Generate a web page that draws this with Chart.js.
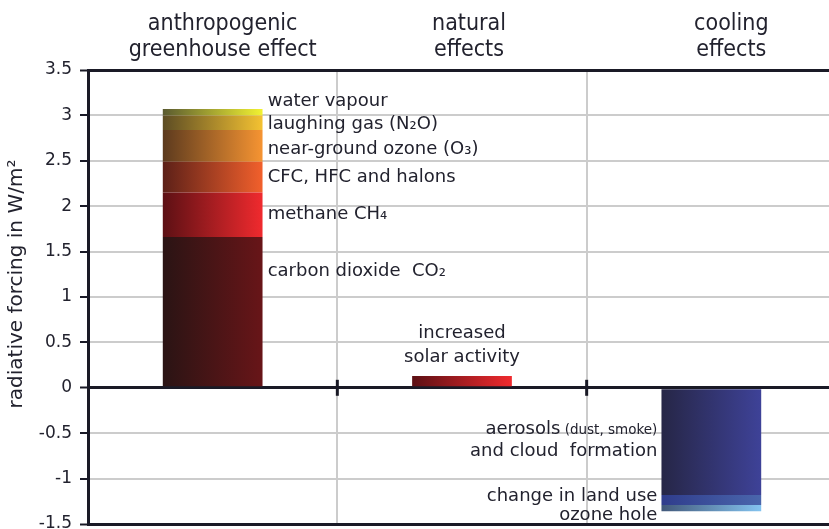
<!DOCTYPE html>
<html lang="en">
<head>
    <meta charset="UTF-8">
    <title>Radiative forcing</title>
    <script src="https://cdn.jsdelivr.net/npm/chart.js"></script>
    <style>
        html, body { margin: 0; padding: 0; overflow: hidden; background: #fff; }
    </style>
</head>
<body>
    <canvas id="forcingChart" width="840" height="529"></canvas>

    <script>
        // categories (top labels)
        const categories = [
            ['anthropogenic', 'greenhouse effect'],
            ['natural', 'effects'],
            ['cooling', 'effects']
        ];

        // anthropogenic greenhouse effect, stacked from the bottom
        const ghgNames = ['carbon dioxide  CO\u2082', 'methane CH\u2084', 'CFC, HFC and halons',
            'near-ground ozone (O\u2083)', 'laughing gas (N\u2082O)', 'water vapour'];
        const ghgValues = [1.66, 0.49, 0.34, 0.35, 0.16, 0.07];

        // natural effects
        const solarNames = ['increased solar activity'];
        const solarValues = [0.13];

        // cooling effects, stacked from zero downwards
        const coolNames = ['aerosols (dust, smoke) and cloud formation', 'change in land use', 'ozone hole'];
        const coolValues = [-1.18, -0.11, -0.07];

        const yTicks = [3.5, 3, 2.5, 2, 1.5, 1, 0.5, 0, -0.5, -1, -1.5];
        const yTitle = 'radiative forcing in W/m\u00b2';

        const textColor = '#22222e';
        const axisColor = '#1a1a26';
        const labelFont = '18px "DejaVu Sans"';

        // gradient colours (left dark -> right bright)
        const ghgColors = [
            ['#2a1414', '#681518'],
            ['#5c1014', '#f02a2e'],
            ['#5c2018', '#f2602c'],
            ['#5c3a1e', '#f69432'],
            ['#5c4c24', '#f4c232'],
            ['#5a5a30', '#f2f232']
        ];
        const solarColors = [['#5c1014', '#f02a2e']];
        const coolColors = [
            ['#262646', '#3e4298'],
            ['#2f3c8c', '#4a66ac'],
            ['#42587a', '#84c4f0']
        ];

        function gradient(c0, c1) {
            return function (ctx) {
                const chart = ctx.chart;
                const x = chart.scales.x;
                if (!x || ctx.dataIndex == null) return c1;
                const cx = x.getPixelForValue(ctx.dataIndex);
                if (!isFinite(cx)) return c1;
                const g = chart.ctx.createLinearGradient(cx - 50, 0, cx + 50, 0);
                g.addColorStop(0, c0);
                g.addColorStop(1, c1);
                return g;
            };
        }

        function makeSets(names, values, colors, idx) {
            return names.map(function (n, i) {
                const data = [null, null, null];
                data[idx] = values[i];
                return {
                    label: n,
                    data: data,
                    backgroundColor: gradient(colors[i][0], colors[i][1]),
                    borderWidth: 0,
                    stack: 's'
                };
            });
        }

        const datasets = [].concat(
            makeSets(ghgNames, ghgValues, ghgColors, 0),
            makeSets(solarNames, solarValues, solarColors, 1),
            makeSets(coolNames, coolValues, coolColors, 2)
        );

        // text next to the bars, category titles and y title
        const labelPlugin = {
            id: 'segmentLabels',
            afterDatasetsDraw(chart) {
                const c = chart.ctx;
                const x = chart.scales.x;
                const y = chart.scales.y;
                c.save();
                c.fillStyle = textColor;
                c.textBaseline = 'middle';

                // category titles (slightly right of the bar centres, as in the original)
                const titleShift = [10, 7, 20];
                c.textAlign = 'center';
                c.font = '23px "DejaVu Sans Condensed", "DejaVu Sans"';
                categories.forEach(function (lines, i) {
                    const px = x.getPixelForValue(i) + titleShift[i];
                    lines.forEach(function (t, j) {
                        c.fillText(t, px, 24 + j * 26);
                    });
                });

                // greenhouse gases, to the right of the bar
                const gx = x.getPixelForValue(0) + 55;
                const gOff = [-41, 0, 0, 4, 2, -11];
                let base = 0;
                c.textAlign = 'left';
                c.font = labelFont;
                ghgValues.forEach(function (v, i) {
                    const mid = y.getPixelForValue(base + v / 2);
                    c.fillText(ghgNames[i], gx, mid + gOff[i]);
                    base += v;
                });

                // solar, centred above the bar
                const sx = x.getPixelForValue(1);
                const st = y.getPixelForValue(solarValues[0]);
                c.textAlign = 'center';
                c.fillText('increased', sx, st - 43);
                c.fillText('solar activity', sx, st - 19);

                // cooling, right aligned, left of the bar
                const cx = x.getPixelForValue(2) - 54;
                c.textAlign = 'right';
                let cb = 0;
                const mids = coolValues.map(function (v) {
                    const m = y.getPixelForValue(cb + v / 2);
                    cb += v;
                    return m;
                });
                c.font = '13.5px "DejaVu Sans"';
                const small = ' (dust, smoke)';
                const sw = c.measureText(small).width;
                c.fillText(small, cx, mids[0] - 11);
                c.font = labelFont;
                c.fillText('aerosols', cx - sw, mids[0] - 12);
                c.fillText('and cloud  formation', cx, mids[0] + 10);
                c.fillText('change in land use', cx, mids[1] - 4);
                c.fillText('ozone hole', cx, mids[2] + 7);

                // little ticks on the zero line at the category borders
                const y0 = y.getPixelForValue(0);
                c.strokeStyle = axisColor;
                c.lineWidth = 3;
                [0.5, 1.5].forEach(function (b) {
                    const px = (x.getPixelForValue(b - 0.5) + x.getPixelForValue(b + 0.5)) / 2;
                    c.beginPath();
                    c.moveTo(px, y0 - 8);
                    c.lineTo(px, y0 + 8);
                    c.stroke();
                });

                // y axis title
                c.translate(17, (chart.chartArea.top + chart.chartArea.bottom) / 2 - 13);
                c.rotate(-Math.PI / 2);
                c.textAlign = 'center';
                c.font = '20px "DejaVu Sans"';
                c.fillText(yTitle, 0, 0);
                c.restore();
            }
        };

        function isFrame(v) {
            return v === 0 || v === 3.5 || v === -1.5;
        }

        const ctx = document.getElementById('forcingChart').getContext('2d');
        const chart = new Chart(ctx, {
            type: 'bar',
            data: {
                labels: categories,
                datasets: datasets
            },
            options: {
                responsive: false,
                animation: false,
                layout: { padding: { left: 0, right: 4, top: 0, bottom: 5 } },
                barPercentage: 0.4,
                categoryPercentage: 1,
                plugins: {
                    legend: { display: false },
                    tooltip: { enabled: false }
                },
                scales: {
                    x: {
                        position: 'top',
                        stacked: true,
                        offset: true,
                        grid: {
                            offset: true,
                            color: '#cccccc',
                            lineWidth: 2,
                            drawTicks: false
                        },
                        border: { display: false },
                        ticks: { display: false },
                        afterFit(s) { s.height = 70; }
                    },
                    y: {
                        stacked: true,
                        min: -1.5,
                        max: 3.5,
                        afterBuildTicks(s) { s.ticks = yTicks.map(function (v) { return { value: v }; }); },
                        grid: {
                            color: function (c) { return c.tick && isFrame(c.tick.value) ? axisColor : '#cccccc'; },
                            lineWidth: function (c) { return c.tick && isFrame(c.tick.value) ? 3 : 2; },
                            tickColor: axisColor,
                            tickWidth: 2,
                            tickLength: 8
                        },
                        border: { color: axisColor, width: 3 },
                        ticks: {
                            color: textColor,
                            padding: 8,
                            font: { family: '"DejaVu Sans"', size: 17 },
                            callback: function (v) { return String(v); }
                        },
                        afterFit(s) { s.width = 88; s.paddingTop = 0; s.paddingBottom = 0; }
                    }
                }
            },
            plugins: [labelPlugin]
        });
    </script>
</body>
</html>
